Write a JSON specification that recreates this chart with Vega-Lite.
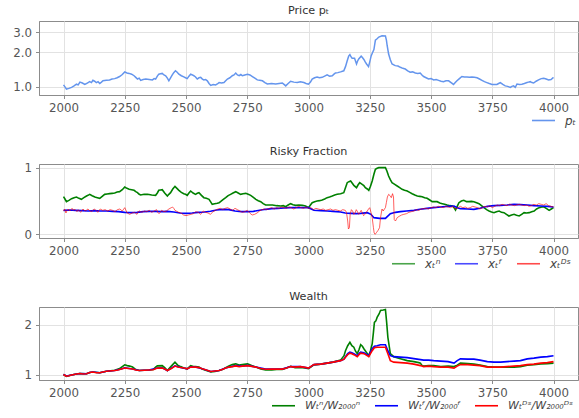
{
  "$schema": "https://vega.github.io/schema/vega-lite/v6.json",
  "background": "white",
  "padding": {"left": 12, "top": 4, "right": 2, "bottom": 2},
  "spacing": 69,
  "bounds": "flush",
  "resolve": {
    "scale": {"color": "independent", "x": "independent", "y": "independent"},
    "legend": {"color": "independent"}
  },
  "config": {
    "font": "DejaVu Sans",
    "view": {"stroke": "#8c8c8c", "strokeWidth": 1},
    "axis": {
      "domainColor": "#8c8c8c", "tickColor": "#8c8c8c", "tickSize": 3.5,
      "labelFont": "DejaVu Sans", "labelFontSize": 11.8, "labelColor": "#555555",
      "labelPadding": 4, "gridColor": "#e2e2e2", "gridWidth": 1,
      "labelFlush": false, "labelOverlap": false
    },
    "title": {"font": "DejaVu Sans", "fontSize": 11.2, "fontWeight": "normal", "color": "#333333", "offset": 5},
    "legend": {
      "orient": "none", "direction": "horizontal", "title": null,
      "symbolType": "stroke", "symbolSize": 529, "symbolStrokeWidth": 1.6,
      "labelFont": "DejaVu Sans", "labelFontSize": 12, "labelFontStyle": "italic",
      "labelColor": "#444444", "labelOffset": 9, "columnPadding": 10
    }
  },
  "datasets": {
    "price": [
      {"t":2000,"p":1.04},{"t":2006,"p":1.0},{"t":2012,"p":0.955},{"t":2022,"p":0.97},{"t":2033,"p":0.99},{"t":2043,"p":1.02},{"t":2053,"p":1.055},{"t":2060,"p":1.04},{"t":2067,"p":1.1},{"t":2077,"p":1.08},{"t":2087,"p":1.05},{"t":2097,"p":1.08},{"t":2107,"p":1.11},{"t":2114,"p":1.09},{"t":2120,"p":1.14},{"t":2127,"p":1.12},{"t":2134,"p":1.09},{"t":2141,"p":1.11},{"t":2148,"p":1.07},{"t":2155,"p":1.1},{"t":2161,"p":1.13},{"t":2175,"p":1.14},{"t":2188,"p":1.15},{"t":2198,"p":1.17},{"t":2209,"p":1.18},{"t":2219,"p":1.2},{"t":2229,"p":1.23},{"t":2240,"p":1.28},{"t":2250,"p":1.35},{"t":2259,"p":1.32},{"t":2268,"p":1.31},{"t":2278,"p":1.29},{"t":2288,"p":1.25},{"t":2295,"p":1.21},{"t":2302,"p":1.17},{"t":2309,"p":1.19},{"t":2315,"p":1.14},{"t":2325,"p":1.16},{"t":2336,"p":1.17},{"t":2350,"p":1.16},{"t":2363,"p":1.15},{"t":2370,"p":1.18},{"t":2376,"p":1.17},{"t":2383,"p":1.24},{"t":2389,"p":1.29},{"t":2396,"p":1.3},{"t":2403,"p":1.31},{"t":2410,"p":1.27},{"t":2417,"p":1.25},{"t":2424,"p":1.19},{"t":2430,"p":1.13},{"t":2437,"p":1.2},{"t":2444,"p":1.27},{"t":2450,"p":1.33},{"t":2457,"p":1.38},{"t":2464,"p":1.34},{"t":2471,"p":1.29},{"t":2481,"p":1.25},{"t":2491,"p":1.22},{"t":2498,"p":1.2},{"t":2505,"p":1.18},{"t":2512,"p":1.24},{"t":2519,"p":1.29},{"t":2526,"p":1.27},{"t":2532,"p":1.25},{"t":2539,"p":1.22},{"t":2546,"p":1.17},{"t":2553,"p":1.2},{"t":2560,"p":1.21},{"t":2567,"p":1.17},{"t":2573,"p":1.15},{"t":2580,"p":1.16},{"t":2587,"p":1.13},{"t":2594,"p":1.07},{"t":2601,"p":1.03},{"t":2611,"p":1.05},{"t":2621,"p":1.04},{"t":2628,"p":1.06},{"t":2635,"p":1.09},{"t":2645,"p":1.08},{"t":2655,"p":1.09},{"t":2662,"p":1.13},{"t":2669,"p":1.17},{"t":2679,"p":1.2},{"t":2689,"p":1.25},{"t":2696,"p":1.27},{"t":2703,"p":1.32},{"t":2710,"p":1.27},{"t":2717,"p":1.25},{"t":2724,"p":1.28},{"t":2730,"p":1.25},{"t":2740,"p":1.27},{"t":2751,"p":1.29},{"t":2761,"p":1.27},{"t":2771,"p":1.23},{"t":2781,"p":1.19},{"t":2791,"p":1.15},{"t":2801,"p":1.14},{"t":2812,"p":1.13},{"t":2822,"p":1.09},{"t":2832,"p":1.06},{"t":2849,"p":1.07},{"t":2866,"p":1.06},{"t":2880,"p":1.07},{"t":2893,"p":1.08},{"t":2900,"p":1.05},{"t":2907,"p":1.02},{"t":2917,"p":1.07},{"t":2927,"p":1.12},{"t":2940,"p":1.1},{"t":2954,"p":1.09},{"t":2967,"p":1.11},{"t":2981,"p":1.09},{"t":2990,"p":1.07},{"t":3000,"p":1.055},{"t":3008,"p":1.1},{"t":3015,"p":1.17},{"t":3025,"p":1.2},{"t":3035,"p":1.22},{"t":3045,"p":1.2},{"t":3056,"p":1.21},{"t":3066,"p":1.24},{"t":3076,"p":1.27},{"t":3086,"p":1.24},{"t":3097,"p":1.25},{"t":3104,"p":1.29},{"t":3110,"p":1.32},{"t":3120,"p":1.33},{"t":3131,"p":1.35},{"t":3144,"p":1.38},{"t":3151,"p":1.5},{"t":3158,"p":1.69},{"t":3164,"p":1.85},{"t":3169,"p":1.91},{"t":3174,"p":1.82},{"t":3178,"p":1.77},{"t":3188,"p":1.77},{"t":3196,"p":1.58},{"t":3200,"p":1.67},{"t":3205,"p":1.75},{"t":3215,"p":1.85},{"t":3220,"p":1.8},{"t":3226,"p":1.73},{"t":3232,"p":1.64},{"t":3237,"p":1.58},{"t":3245,"p":1.5},{"t":3250,"p":1.65},{"t":3256,"p":1.87},{"t":3262,"p":2.0},{"t":3267,"p":2.11},{"t":3273,"p":2.55},{"t":3280,"p":2.62},{"t":3287,"p":2.71},{"t":3300,"p":2.78},{"t":3314,"p":2.77},{"t":3318,"p":2.55},{"t":3321,"p":2.29},{"t":3327,"p":1.93},{"t":3334,"p":1.72},{"t":3341,"p":1.58},{"t":3354,"p":1.53},{"t":3365,"p":1.52},{"t":3375,"p":1.48},{"t":3385,"p":1.45},{"t":3395,"p":1.43},{"t":3405,"p":1.38},{"t":3415,"p":1.34},{"t":3425,"p":1.35},{"t":3436,"p":1.32},{"t":3446,"p":1.31},{"t":3456,"p":1.32},{"t":3463,"p":1.27},{"t":3470,"p":1.23},{"t":3480,"p":1.2},{"t":3490,"p":1.17},{"t":3500,"p":1.18},{"t":3511,"p":1.15},{"t":3521,"p":1.16},{"t":3531,"p":1.14},{"t":3541,"p":1.12},{"t":3551,"p":1.11},{"t":3561,"p":1.13},{"t":3572,"p":1.13},{"t":3582,"p":1.09},{"t":3592,"p":1.05},{"t":3599,"p":1.09},{"t":3606,"p":1.13},{"t":3616,"p":1.18},{"t":3626,"p":1.23},{"t":3636,"p":1.22},{"t":3647,"p":1.22},{"t":3657,"p":1.21},{"t":3667,"p":1.22},{"t":3677,"p":1.21},{"t":3688,"p":1.2},{"t":3698,"p":1.17},{"t":3708,"p":1.14},{"t":3718,"p":1.11},{"t":3728,"p":1.09},{"t":3738,"p":1.07},{"t":3749,"p":1.05},{"t":3759,"p":1.05},{"t":3769,"p":1.05},{"t":3776,"p":1.07},{"t":3783,"p":1.09},{"t":3793,"p":1.05},{"t":3803,"p":1.02},{"t":3813,"p":1.01},{"t":3824,"p":0.99},{"t":3830,"p":1.01},{"t":3837,"p":1.02},{"t":3844,"p":0.99},{"t":3851,"p":1.06},{"t":3861,"p":1.05},{"t":3871,"p":1.055},{"t":3881,"p":1.07},{"t":3892,"p":1.09},{"t":3898,"p":1.1},{"t":3905,"p":1.11},{"t":3912,"p":1.09},{"t":3919,"p":1.08},{"t":3929,"p":1.12},{"t":3939,"p":1.15},{"t":3950,"p":1.18},{"t":3960,"p":1.19},{"t":3970,"p":1.17},{"t":3980,"p":1.15},{"t":3990,"p":1.16},{"t":4000,"p":1.21}
    ],
    "frac": [
      {"s":"n","t":2000,"v":0.565},{"s":"n","t":2006,"v":0.53},{"s":"n","t":2012,"v":0.49},{"s":"n","t":2022,"v":0.51},{"s":"n","t":2033,"v":0.535},{"s":"n","t":2043,"v":0.55},{"s":"n","t":2053,"v":0.56},{"s":"n","t":2063,"v":0.54},{"s":"n","t":2073,"v":0.525},{"s":"n","t":2083,"v":0.55},{"s":"n","t":2094,"v":0.575},{"s":"n","t":2100,"v":0.585},{"s":"n","t":2107,"v":0.6},{"s":"n","t":2117,"v":0.58},{"s":"n","t":2128,"v":0.56},{"s":"n","t":2138,"v":0.55},{"s":"n","t":2148,"v":0.54},{"s":"n","t":2158,"v":0.57},{"s":"n","t":2168,"v":0.6},{"s":"n","t":2178,"v":0.605},{"s":"n","t":2188,"v":0.61},{"s":"n","t":2198,"v":0.615},{"s":"n","t":2209,"v":0.62},{"s":"n","t":2219,"v":0.635},{"s":"n","t":2229,"v":0.64},{"s":"n","t":2240,"v":0.67},{"s":"n","t":2250,"v":0.71},{"s":"n","t":2259,"v":0.69},{"s":"n","t":2268,"v":0.675},{"s":"n","t":2278,"v":0.67},{"s":"n","t":2288,"v":0.66},{"s":"n","t":2295,"v":0.64},{"s":"n","t":2302,"v":0.625},{"s":"n","t":2309,"v":0.6},{"s":"n","t":2315,"v":0.59},{"s":"n","t":2329,"v":0.6},{"s":"n","t":2343,"v":0.6},{"s":"n","t":2360,"v":0.59},{"s":"n","t":2376,"v":0.585},{"s":"n","t":2383,"v":0.62},{"s":"n","t":2389,"v":0.66},{"s":"n","t":2396,"v":0.665},{"s":"n","t":2403,"v":0.67},{"s":"n","t":2413,"v":0.62},{"s":"n","t":2424,"v":0.575},{"s":"n","t":2430,"v":0.6},{"s":"n","t":2437,"v":0.625},{"s":"n","t":2446,"v":0.68},{"s":"n","t":2455,"v":0.72},{"s":"n","t":2463,"v":0.69},{"s":"n","t":2471,"v":0.66},{"s":"n","t":2481,"v":0.63},{"s":"n","t":2491,"v":0.61},{"s":"n","t":2498,"v":0.6},{"s":"n","t":2505,"v":0.585},{"s":"n","t":2512,"v":0.62},{"s":"n","t":2519,"v":0.65},{"s":"n","t":2529,"v":0.62},{"s":"n","t":2539,"v":0.6},{"s":"n","t":2546,"v":0.615},{"s":"n","t":2553,"v":0.625},{"s":"n","t":2563,"v":0.585},{"s":"n","t":2573,"v":0.55},{"s":"n","t":2583,"v":0.54},{"s":"n","t":2594,"v":0.525},{"s":"n","t":2600,"v":0.49},{"s":"n","t":2607,"v":0.45},{"s":"n","t":2617,"v":0.46},{"s":"n","t":2628,"v":0.465},{"s":"n","t":2635,"v":0.475},{"s":"n","t":2641,"v":0.49},{"s":"n","t":2651,"v":0.52},{"s":"n","t":2662,"v":0.55},{"s":"n","t":2672,"v":0.58},{"s":"n","t":2682,"v":0.6},{"s":"n","t":2692,"v":0.62},{"s":"n","t":2703,"v":0.64},{"s":"n","t":2713,"v":0.62},{"s":"n","t":2723,"v":0.6},{"s":"n","t":2733,"v":0.61},{"s":"n","t":2744,"v":0.615},{"s":"n","t":2754,"v":0.6},{"s":"n","t":2764,"v":0.585},{"s":"n","t":2775,"v":0.555},{"s":"n","t":2785,"v":0.525},{"s":"n","t":2795,"v":0.505},{"s":"n","t":2805,"v":0.49},{"s":"n","t":2815,"v":0.46},{"s":"n","t":2825,"v":0.44},{"s":"n","t":2839,"v":0.44},{"s":"n","t":2853,"v":0.44},{"s":"n","t":2870,"v":0.43},{"s":"n","t":2887,"v":0.425},{"s":"n","t":2897,"v":0.43},{"s":"n","t":2907,"v":0.415},{"s":"n","t":2917,"v":0.44},{"s":"n","t":2927,"v":0.46},{"s":"n","t":2937,"v":0.445},{"s":"n","t":2948,"v":0.435},{"s":"n","t":2961,"v":0.44},{"s":"n","t":2975,"v":0.435},{"s":"n","t":2988,"v":0.425},{"s":"n","t":3000,"v":0.4},{"s":"n","t":3008,"v":0.44},{"s":"n","t":3015,"v":0.475},{"s":"n","t":3025,"v":0.49},{"s":"n","t":3035,"v":0.5},{"s":"n","t":3045,"v":0.505},{"s":"n","t":3056,"v":0.515},{"s":"n","t":3066,"v":0.53},{"s":"n","t":3076,"v":0.55},{"s":"n","t":3086,"v":0.56},{"s":"n","t":3097,"v":0.575},{"s":"n","t":3107,"v":0.59},{"s":"n","t":3117,"v":0.6},{"s":"n","t":3131,"v":0.61},{"s":"n","t":3144,"v":0.625},{"s":"n","t":3151,"v":0.7},{"s":"n","t":3158,"v":0.775},{"s":"n","t":3165,"v":0.79},{"s":"n","t":3172,"v":0.8},{"s":"n","t":3178,"v":0.77},{"s":"n","t":3185,"v":0.735},{"s":"n","t":3196,"v":0.7},{"s":"n","t":3202,"v":0.74},{"s":"n","t":3209,"v":0.775},{"s":"n","t":3219,"v":0.75},{"s":"n","t":3226,"v":0.73},{"s":"n","t":3232,"v":0.7},{"s":"n","t":3240,"v":0.68},{"s":"n","t":3246,"v":0.66},{"s":"n","t":3253,"v":0.72},{"s":"n","t":3260,"v":0.8},{"s":"n","t":3267,"v":0.9},{"s":"n","t":3273,"v":0.975},{"s":"n","t":3280,"v":0.99},{"s":"n","t":3287,"v":1.0},{"s":"n","t":3300,"v":1.0},{"s":"n","t":3314,"v":1.0},{"s":"n","t":3320,"v":0.95},{"s":"n","t":3327,"v":0.875},{"s":"n","t":3334,"v":0.82},{"s":"n","t":3341,"v":0.775},{"s":"n","t":3352,"v":0.75},{"s":"n","t":3362,"v":0.725},{"s":"n","t":3372,"v":0.7},{"s":"n","t":3382,"v":0.675},{"s":"n","t":3392,"v":0.66},{"s":"n","t":3403,"v":0.65},{"s":"n","t":3413,"v":0.63},{"s":"n","t":3423,"v":0.61},{"s":"n","t":3434,"v":0.59},{"s":"n","t":3444,"v":0.575},{"s":"n","t":3454,"v":0.57},{"s":"n","t":3464,"v":0.565},{"s":"n","t":3474,"v":0.55},{"s":"n","t":3484,"v":0.54},{"s":"n","t":3495,"v":0.515},{"s":"n","t":3505,"v":0.49},{"s":"n","t":3515,"v":0.49},{"s":"n","t":3525,"v":0.49},{"s":"n","t":3536,"v":0.47},{"s":"n","t":3546,"v":0.46},{"s":"n","t":3556,"v":0.45},{"s":"n","t":3566,"v":0.44},{"s":"n","t":3577,"v":0.43},{"s":"n","t":3587,"v":0.425},{"s":"n","t":3594,"v":0.4},{"s":"n","t":3600,"v":0.365},{"s":"n","t":3607,"v":0.42},{"s":"n","t":3614,"v":0.475},{"s":"n","t":3624,"v":0.5},{"s":"n","t":3634,"v":0.51},{"s":"n","t":3645,"v":0.49},{"s":"n","t":3655,"v":0.49},{"s":"n","t":3665,"v":0.495},{"s":"n","t":3675,"v":0.49},{"s":"n","t":3686,"v":0.475},{"s":"n","t":3696,"v":0.46},{"s":"n","t":3706,"v":0.43},{"s":"n","t":3716,"v":0.4},{"s":"n","t":3727,"v":0.37},{"s":"n","t":3737,"v":0.35},{"s":"n","t":3747,"v":0.335},{"s":"n","t":3757,"v":0.325},{"s":"n","t":3767,"v":0.34},{"s":"n","t":3778,"v":0.35},{"s":"n","t":3788,"v":0.33},{"s":"n","t":3798,"v":0.325},{"s":"n","t":3808,"v":0.3},{"s":"n","t":3818,"v":0.275},{"s":"n","t":3829,"v":0.29},{"s":"n","t":3839,"v":0.3},{"s":"n","t":3849,"v":0.285},{"s":"n","t":3860,"v":0.275},{"s":"n","t":3870,"v":0.3},{"s":"n","t":3880,"v":0.325},{"s":"n","t":3890,"v":0.32},{"s":"n","t":3901,"v":0.325},{"s":"n","t":3911,"v":0.34},{"s":"n","t":3921,"v":0.35},{"s":"n","t":3931,"v":0.38},{"s":"n","t":3941,"v":0.4},{"s":"n","t":3952,"v":0.41},{"s":"n","t":3962,"v":0.41},{"s":"n","t":3972,"v":0.385},{"s":"n","t":3982,"v":0.36},{"s":"n","t":3991,"v":0.38},{"s":"n","t":4000,"v":0.4},
      {"s":"f","t":2000,"v":0.36},{"s":"f","t":2025,"v":0.365},{"s":"f","t":2050,"v":0.36},{"s":"f","t":2075,"v":0.355},{"s":"f","t":2100,"v":0.35},{"s":"f","t":2125,"v":0.355},{"s":"f","t":2150,"v":0.35},{"s":"f","t":2175,"v":0.35},{"s":"f","t":2200,"v":0.345},{"s":"f","t":2225,"v":0.34},{"s":"f","t":2250,"v":0.33},{"s":"f","t":2275,"v":0.325},{"s":"f","t":2300,"v":0.33},{"s":"f","t":2325,"v":0.34},{"s":"f","t":2350,"v":0.345},{"s":"f","t":2375,"v":0.345},{"s":"f","t":2400,"v":0.34},{"s":"f","t":2425,"v":0.345},{"s":"f","t":2450,"v":0.335},{"s":"f","t":2475,"v":0.32},{"s":"f","t":2500,"v":0.315},{"s":"f","t":2525,"v":0.32},{"s":"f","t":2550,"v":0.33},{"s":"f","t":2575,"v":0.335},{"s":"f","t":2600,"v":0.345},{"s":"f","t":2625,"v":0.365},{"s":"f","t":2650,"v":0.375},{"s":"f","t":2675,"v":0.37},{"s":"f","t":2700,"v":0.35},{"s":"f","t":2725,"v":0.34},{"s":"f","t":2750,"v":0.34},{"s":"f","t":2775,"v":0.345},{"s":"f","t":2800,"v":0.36},{"s":"f","t":2825,"v":0.375},{"s":"f","t":2850,"v":0.385},{"s":"f","t":2875,"v":0.39},{"s":"f","t":2900,"v":0.395},{"s":"f","t":2925,"v":0.4},{"s":"f","t":2950,"v":0.4},{"s":"f","t":2975,"v":0.4},{"s":"f","t":3000,"v":0.4},{"s":"f","t":3022,"v":0.36},{"s":"f","t":3050,"v":0.355},{"s":"f","t":3076,"v":0.35},{"s":"f","t":3100,"v":0.345},{"s":"f","t":3131,"v":0.335},{"s":"f","t":3150,"v":0.32},{"s":"f","t":3172,"v":0.315},{"s":"f","t":3195,"v":0.31},{"s":"f","t":3213,"v":0.315},{"s":"f","t":3240,"v":0.325},{"s":"f","t":3255,"v":0.3},{"s":"f","t":3267,"v":0.25},{"s":"f","t":3290,"v":0.24},{"s":"f","t":3314,"v":0.24},{"s":"f","t":3334,"v":0.31},{"s":"f","t":3355,"v":0.33},{"s":"f","t":3375,"v":0.34},{"s":"f","t":3400,"v":0.35},{"s":"f","t":3430,"v":0.36},{"s":"f","t":3455,"v":0.375},{"s":"f","t":3484,"v":0.39},{"s":"f","t":3510,"v":0.4},{"s":"f","t":3539,"v":0.41},{"s":"f","t":3565,"v":0.42},{"s":"f","t":3594,"v":0.425},{"s":"f","t":3607,"v":0.4},{"s":"f","t":3620,"v":0.385},{"s":"f","t":3650,"v":0.38},{"s":"f","t":3675,"v":0.375},{"s":"f","t":3700,"v":0.39},{"s":"f","t":3730,"v":0.42},{"s":"f","t":3757,"v":0.43},{"s":"f","t":3784,"v":0.435},{"s":"f","t":3810,"v":0.44},{"s":"f","t":3839,"v":0.45},{"s":"f","t":3865,"v":0.445},{"s":"f","t":3893,"v":0.44},{"s":"f","t":3920,"v":0.43},{"s":"f","t":3948,"v":0.425},{"s":"f","t":3975,"v":0.42},{"s":"f","t":4000,"v":0.41},
      {"s":"d","t":2000,"v":0.35},{"s":"d","t":2005,"v":0.38},{"s":"d","t":2010,"v":0.32},{"s":"d","t":2015,"v":0.36},{"s":"d","t":2020,"v":0.38},{"s":"d","t":2025,"v":0.35},{"s":"d","t":2030,"v":0.37},{"s":"d","t":2035,"v":0.39},{"s":"d","t":2040,"v":0.36},{"s":"d","t":2045,"v":0.38},{"s":"d","t":2050,"v":0.36},{"s":"d","t":2055,"v":0.34},{"s":"d","t":2060,"v":0.37},{"s":"d","t":2065,"v":0.35},{"s":"d","t":2070,"v":0.33},{"s":"d","t":2075,"v":0.36},{"s":"d","t":2080,"v":0.38},{"s":"d","t":2085,"v":0.36},{"s":"d","t":2090,"v":0.35},{"s":"d","t":2095,"v":0.37},{"s":"d","t":2100,"v":0.38},{"s":"d","t":2105,"v":0.36},{"s":"d","t":2110,"v":0.35},{"s":"d","t":2115,"v":0.34},{"s":"d","t":2120,"v":0.36},{"s":"d","t":2125,"v":0.38},{"s":"d","t":2130,"v":0.37},{"s":"d","t":2135,"v":0.35},{"s":"d","t":2140,"v":0.33},{"s":"d","t":2145,"v":0.36},{"s":"d","t":2150,"v":0.38},{"s":"d","t":2160,"v":0.36},{"s":"d","t":2170,"v":0.37},{"s":"d","t":2180,"v":0.35},{"s":"d","t":2190,"v":0.37},{"s":"d","t":2200,"v":0.36},{"s":"d","t":2210,"v":0.34},{"s":"d","t":2220,"v":0.37},{"s":"d","t":2230,"v":0.38},{"s":"d","t":2240,"v":0.35},{"s":"d","t":2250,"v":0.4},{"s":"d","t":2255,"v":0.36},{"s":"d","t":2260,"v":0.32},{"s":"d","t":2270,"v":0.3},{"s":"d","t":2280,"v":0.32},{"s":"d","t":2290,"v":0.33},{"s":"d","t":2300,"v":0.3},{"s":"d","t":2305,"v":0.34},{"s":"d","t":2310,"v":0.35},{"s":"d","t":2320,"v":0.33},{"s":"d","t":2330,"v":0.35},{"s":"d","t":2340,"v":0.34},{"s":"d","t":2350,"v":0.36},{"s":"d","t":2360,"v":0.33},{"s":"d","t":2370,"v":0.35},{"s":"d","t":2380,"v":0.37},{"s":"d","t":2385,"v":0.33},{"s":"d","t":2390,"v":0.31},{"s":"d","t":2395,"v":0.33},{"s":"d","t":2400,"v":0.36},{"s":"d","t":2410,"v":0.34},{"s":"d","t":2420,"v":0.35},{"s":"d","t":2430,"v":0.38},{"s":"d","t":2440,"v":0.4},{"s":"d","t":2445,"v":0.41},{"s":"d","t":2450,"v":0.39},{"s":"d","t":2455,"v":0.36},{"s":"d","t":2460,"v":0.35},{"s":"d","t":2470,"v":0.33},{"s":"d","t":2480,"v":0.32},{"s":"d","t":2490,"v":0.29},{"s":"d","t":2500,"v":0.28},{"s":"d","t":2510,"v":0.29},{"s":"d","t":2520,"v":0.3},{"s":"d","t":2530,"v":0.31},{"s":"d","t":2540,"v":0.34},{"s":"d","t":2550,"v":0.33},{"s":"d","t":2560,"v":0.3},{"s":"d","t":2570,"v":0.35},{"s":"d","t":2580,"v":0.33},{"s":"d","t":2590,"v":0.32},{"s":"d","t":2600,"v":0.3},{"s":"d","t":2610,"v":0.34},{"s":"d","t":2620,"v":0.36},{"s":"d","t":2630,"v":0.38},{"s":"d","t":2640,"v":0.39},{"s":"d","t":2650,"v":0.37},{"s":"d","t":2660,"v":0.39},{"s":"d","t":2670,"v":0.4},{"s":"d","t":2680,"v":0.38},{"s":"d","t":2690,"v":0.36},{"s":"d","t":2700,"v":0.39},{"s":"d","t":2710,"v":0.37},{"s":"d","t":2720,"v":0.35},{"s":"d","t":2730,"v":0.33},{"s":"d","t":2740,"v":0.34},{"s":"d","t":2750,"v":0.36},{"s":"d","t":2760,"v":0.32},{"s":"d","t":2770,"v":0.29},{"s":"d","t":2780,"v":0.3},{"s":"d","t":2790,"v":0.32},{"s":"d","t":2800,"v":0.35},{"s":"d","t":2810,"v":0.37},{"s":"d","t":2820,"v":0.38},{"s":"d","t":2830,"v":0.37},{"s":"d","t":2840,"v":0.39},{"s":"d","t":2850,"v":0.4},{"s":"d","t":2860,"v":0.38},{"s":"d","t":2870,"v":0.4},{"s":"d","t":2880,"v":0.39},{"s":"d","t":2890,"v":0.41},{"s":"d","t":2900,"v":0.4},{"s":"d","t":2910,"v":0.39},{"s":"d","t":2920,"v":0.41},{"s":"d","t":2930,"v":0.4},{"s":"d","t":2940,"v":0.38},{"s":"d","t":2950,"v":0.4},{"s":"d","t":2960,"v":0.42},{"s":"d","t":2970,"v":0.4},{"s":"d","t":2980,"v":0.39},{"s":"d","t":2990,"v":0.41},{"s":"d","t":3000,"v":0.39},{"s":"d","t":3010,"v":0.4},{"s":"d","t":3020,"v":0.37},{"s":"d","t":3030,"v":0.39},{"s":"d","t":3040,"v":0.38},{"s":"d","t":3050,"v":0.37},{"s":"d","t":3060,"v":0.38},{"s":"d","t":3070,"v":0.36},{"s":"d","t":3080,"v":0.37},{"s":"d","t":3090,"v":0.38},{"s":"d","t":3100,"v":0.36},{"s":"d","t":3110,"v":0.37},{"s":"d","t":3120,"v":0.36},{"s":"d","t":3130,"v":0.35},{"s":"d","t":3140,"v":0.37},{"s":"d","t":3150,"v":0.36},{"s":"d","t":3155,"v":0.33},{"s":"d","t":3160,"v":0.2},{"s":"d","t":3163,"v":0.08},{"s":"d","t":3167,"v":0.1},{"s":"d","t":3170,"v":0.3},{"s":"d","t":3175,"v":0.37},{"s":"d","t":3180,"v":0.35},{"s":"d","t":3185,"v":0.3},{"s":"d","t":3190,"v":0.32},{"s":"d","t":3195,"v":0.37},{"s":"d","t":3200,"v":0.34},{"s":"d","t":3205,"v":0.3},{"s":"d","t":3210,"v":0.33},{"s":"d","t":3215,"v":0.36},{"s":"d","t":3220,"v":0.32},{"s":"d","t":3225,"v":0.28},{"s":"d","t":3230,"v":0.3},{"s":"d","t":3235,"v":0.33},{"s":"d","t":3240,"v":0.35},{"s":"d","t":3245,"v":0.38},{"s":"d","t":3250,"v":0.4},{"s":"d","t":3255,"v":0.33},{"s":"d","t":3260,"v":0.25},{"s":"d","t":3265,"v":0.1},{"s":"d","t":3268,"v":0.02},{"s":"d","t":3272,"v":0.0},{"s":"d","t":3278,"v":0.03},{"s":"d","t":3284,"v":0.06},{"s":"d","t":3290,"v":0.1},{"s":"d","t":3294,"v":0.25},{"s":"d","t":3300,"v":0.38},{"s":"d","t":3305,"v":0.35},{"s":"d","t":3310,"v":0.38},{"s":"d","t":3314,"v":0.4},{"s":"d","t":3318,"v":0.48},{"s":"d","t":3322,"v":0.56},{"s":"d","t":3327,"v":0.6},{"s":"d","t":3333,"v":0.58},{"s":"d","t":3338,"v":0.55},{"s":"d","t":3343,"v":0.61},{"s":"d","t":3347,"v":0.56},{"s":"d","t":3350,"v":0.22},{"s":"d","t":3355,"v":0.2},{"s":"d","t":3362,"v":0.25},{"s":"d","t":3370,"v":0.27},{"s":"d","t":3380,"v":0.29},{"s":"d","t":3389,"v":0.3},{"s":"d","t":3400,"v":0.31},{"s":"d","t":3410,"v":0.33},{"s":"d","t":3420,"v":0.34},{"s":"d","t":3430,"v":0.35},{"s":"d","t":3440,"v":0.37},{"s":"d","t":3450,"v":0.36},{"s":"d","t":3460,"v":0.38},{"s":"d","t":3470,"v":0.385},{"s":"d","t":3480,"v":0.39},{"s":"d","t":3490,"v":0.38},{"s":"d","t":3500,"v":0.4},{"s":"d","t":3510,"v":0.41},{"s":"d","t":3520,"v":0.4},{"s":"d","t":3530,"v":0.42},{"s":"d","t":3540,"v":0.41},{"s":"d","t":3550,"v":0.4},{"s":"d","t":3560,"v":0.42},{"s":"d","t":3570,"v":0.41},{"s":"d","t":3580,"v":0.4},{"s":"d","t":3590,"v":0.42},{"s":"d","t":3600,"v":0.38},{"s":"d","t":3610,"v":0.4},{"s":"d","t":3620,"v":0.42},{"s":"d","t":3630,"v":0.4},{"s":"d","t":3640,"v":0.41},{"s":"d","t":3650,"v":0.39},{"s":"d","t":3660,"v":0.4},{"s":"d","t":3670,"v":0.42},{"s":"d","t":3680,"v":0.41},{"s":"d","t":3690,"v":0.4},{"s":"d","t":3700,"v":0.38},{"s":"d","t":3710,"v":0.4},{"s":"d","t":3720,"v":0.42},{"s":"d","t":3730,"v":0.41},{"s":"d","t":3740,"v":0.43},{"s":"d","t":3750,"v":0.4},{"s":"d","t":3760,"v":0.42},{"s":"d","t":3770,"v":0.44},{"s":"d","t":3780,"v":0.43},{"s":"d","t":3790,"v":0.45},{"s":"d","t":3800,"v":0.44},{"s":"d","t":3810,"v":0.43},{"s":"d","t":3820,"v":0.45},{"s":"d","t":3830,"v":0.44},{"s":"d","t":3840,"v":0.43},{"s":"d","t":3850,"v":0.44},{"s":"d","t":3860,"v":0.45},{"s":"d","t":3870,"v":0.44},{"s":"d","t":3880,"v":0.43},{"s":"d","t":3890,"v":0.44},{"s":"d","t":3900,"v":0.42},{"s":"d","t":3910,"v":0.43},{"s":"d","t":3920,"v":0.45},{"s":"d","t":3930,"v":0.44},{"s":"d","t":3940,"v":0.46},{"s":"d","t":3950,"v":0.45},{"s":"d","t":3960,"v":0.44},{"s":"d","t":3970,"v":0.46},{"s":"d","t":3980,"v":0.43},{"s":"d","t":3990,"v":0.42},{"s":"d","t":4000,"v":0.41}
    ],
    "wealth": [
      {"s":"n","t":2000,"v":1.0},{"s":"n","t":2012,"v":0.965},{"s":"n","t":2033,"v":0.99},{"s":"n","t":2053,"v":1.01},{"s":"n","t":2067,"v":1.02},{"s":"n","t":2094,"v":1.015},{"s":"n","t":2107,"v":1.04},{"s":"n","t":2120,"v":1.05},{"s":"n","t":2148,"v":1.035},{"s":"n","t":2175,"v":1.065},{"s":"n","t":2209,"v":1.085},{"s":"n","t":2229,"v":1.12},{"s":"n","t":2240,"v":1.16},{"s":"n","t":2250,"v":1.195},{"s":"n","t":2260,"v":1.18},{"s":"n","t":2270,"v":1.17},{"s":"n","t":2282,"v":1.15},{"s":"n","t":2295,"v":1.1},{"s":"n","t":2309,"v":1.08},{"s":"n","t":2329,"v":1.085},{"s":"n","t":2349,"v":1.09},{"s":"n","t":2366,"v":1.1},{"s":"n","t":2376,"v":1.15},{"s":"n","t":2383,"v":1.175},{"s":"n","t":2403,"v":1.18},{"s":"n","t":2413,"v":1.14},{"s":"n","t":2424,"v":1.08},{"s":"n","t":2440,"v":1.17},{"s":"n","t":2455,"v":1.25},{"s":"n","t":2466,"v":1.19},{"s":"n","t":2478,"v":1.16},{"s":"n","t":2491,"v":1.13},{"s":"n","t":2505,"v":1.115},{"s":"n","t":2519,"v":1.18},{"s":"n","t":2530,"v":1.16},{"s":"n","t":2539,"v":1.16},{"s":"n","t":2553,"v":1.15},{"s":"n","t":2566,"v":1.11},{"s":"n","t":2583,"v":1.08},{"s":"n","t":2601,"v":1.05},{"s":"n","t":2618,"v":1.06},{"s":"n","t":2635,"v":1.08},{"s":"n","t":2648,"v":1.1},{"s":"n","t":2662,"v":1.14},{"s":"n","t":2675,"v":1.17},{"s":"n","t":2689,"v":1.2},{"s":"n","t":2703,"v":1.215},{"s":"n","t":2717,"v":1.19},{"s":"n","t":2730,"v":1.2},{"s":"n","t":2751,"v":1.215},{"s":"n","t":2768,"v":1.18},{"s":"n","t":2785,"v":1.15},{"s":"n","t":2805,"v":1.11},{"s":"n","t":2825,"v":1.094},{"s":"n","t":2850,"v":1.09},{"s":"n","t":2870,"v":1.1},{"s":"n","t":2893,"v":1.1},{"s":"n","t":2910,"v":1.13},{"s":"n","t":2927,"v":1.165},{"s":"n","t":2945,"v":1.14},{"s":"n","t":2967,"v":1.145},{"s":"n","t":2985,"v":1.13},{"s":"n","t":3000,"v":1.12},{"s":"n","t":3012,"v":1.16},{"s":"n","t":3022,"v":1.195},{"s":"n","t":3050,"v":1.21},{"s":"n","t":3076,"v":1.23},{"s":"n","t":3100,"v":1.25},{"s":"n","t":3131,"v":1.29},{"s":"n","t":3145,"v":1.38},{"s":"n","t":3151,"v":1.48},{"s":"n","t":3160,"v":1.58},{"s":"n","t":3169,"v":1.65},{"s":"n","t":3177,"v":1.58},{"s":"n","t":3185,"v":1.55},{"s":"n","t":3192,"v":1.47},{"s":"n","t":3199,"v":1.42},{"s":"n","t":3206,"v":1.5},{"s":"n","t":3213,"v":1.6},{"s":"n","t":3220,"v":1.57},{"s":"n","t":3226,"v":1.52},{"s":"n","t":3236,"v":1.45},{"s":"n","t":3246,"v":1.38},{"s":"n","t":3253,"v":1.48},{"s":"n","t":3260,"v":1.62},{"s":"n","t":3265,"v":1.85},{"s":"n","t":3269,"v":2.05},{"s":"n","t":3275,"v":2.08},{"s":"n","t":3280,"v":2.15},{"s":"n","t":3288,"v":2.22},{"s":"n","t":3294,"v":2.29},{"s":"n","t":3305,"v":2.3},{"s":"n","t":3314,"v":2.31},{"s":"n","t":3319,"v":2.05},{"s":"n","t":3324,"v":1.75},{"s":"n","t":3334,"v":1.42},{"s":"n","t":3348,"v":1.36},{"s":"n","t":3375,"v":1.32},{"s":"n","t":3403,"v":1.28},{"s":"n","t":3430,"v":1.26},{"s":"n","t":3450,"v":1.24},{"s":"n","t":3457,"v":1.23},{"s":"n","t":3462,"v":1.19},{"s":"n","t":3470,"v":1.17},{"s":"n","t":3490,"v":1.18},{"s":"n","t":3511,"v":1.18},{"s":"n","t":3540,"v":1.16},{"s":"n","t":3570,"v":1.17},{"s":"n","t":3594,"v":1.16},{"s":"n","t":3607,"v":1.19},{"s":"n","t":3620,"v":1.23},{"s":"n","t":3650,"v":1.22},{"s":"n","t":3675,"v":1.21},{"s":"n","t":3700,"v":1.19},{"s":"n","t":3730,"v":1.16},{"s":"n","t":3757,"v":1.15},{"s":"n","t":3784,"v":1.15},{"s":"n","t":3810,"v":1.15},{"s":"n","t":3839,"v":1.15},{"s":"n","t":3865,"v":1.16},{"s":"n","t":3893,"v":1.19},{"s":"n","t":3920,"v":1.2},{"s":"n","t":3948,"v":1.215},{"s":"n","t":3975,"v":1.22},{"s":"n","t":4000,"v":1.23},
      {"s":"f","t":2000,"v":1.0},{"s":"f","t":2012,"v":0.97},{"s":"f","t":2033,"v":0.99},{"s":"f","t":2053,"v":1.01},{"s":"f","t":2067,"v":1.02},{"s":"f","t":2094,"v":1.015},{"s":"f","t":2107,"v":1.04},{"s":"f","t":2120,"v":1.05},{"s":"f","t":2148,"v":1.035},{"s":"f","t":2175,"v":1.065},{"s":"f","t":2209,"v":1.08},{"s":"f","t":2236,"v":1.11},{"s":"f","t":2250,"v":1.135},{"s":"f","t":2282,"v":1.11},{"s":"f","t":2309,"v":1.08},{"s":"f","t":2349,"v":1.09},{"s":"f","t":2383,"v":1.13},{"s":"f","t":2403,"v":1.135},{"s":"f","t":2424,"v":1.08},{"s":"f","t":2455,"v":1.175},{"s":"f","t":2478,"v":1.14},{"s":"f","t":2505,"v":1.115},{"s":"f","t":2519,"v":1.155},{"s":"f","t":2539,"v":1.15},{"s":"f","t":2566,"v":1.115},{"s":"f","t":2601,"v":1.06},{"s":"f","t":2635,"v":1.08},{"s":"f","t":2662,"v":1.13},{"s":"f","t":2689,"v":1.165},{"s":"f","t":2703,"v":1.18},{"s":"f","t":2730,"v":1.17},{"s":"f","t":2751,"v":1.185},{"s":"f","t":2785,"v":1.15},{"s":"f","t":2825,"v":1.11},{"s":"f","t":2870,"v":1.11},{"s":"f","t":2893,"v":1.11},{"s":"f","t":2927,"v":1.16},{"s":"f","t":2967,"v":1.16},{"s":"f","t":3000,"v":1.13},{"s":"f","t":3022,"v":1.2},{"s":"f","t":3050,"v":1.21},{"s":"f","t":3076,"v":1.23},{"s":"f","t":3100,"v":1.25},{"s":"f","t":3131,"v":1.28},{"s":"f","t":3145,"v":1.31},{"s":"f","t":3151,"v":1.36},{"s":"f","t":3160,"v":1.42},{"s":"f","t":3169,"v":1.45},{"s":"f","t":3177,"v":1.44},{"s":"f","t":3185,"v":1.42},{"s":"f","t":3199,"v":1.38},{"s":"f","t":3206,"v":1.42},{"s":"f","t":3213,"v":1.45},{"s":"f","t":3226,"v":1.44},{"s":"f","t":3236,"v":1.41},{"s":"f","t":3246,"v":1.38},{"s":"f","t":3253,"v":1.45},{"s":"f","t":3260,"v":1.52},{"s":"f","t":3269,"v":1.57},{"s":"f","t":3280,"v":1.58},{"s":"f","t":3294,"v":1.6},{"s":"f","t":3314,"v":1.6},{"s":"f","t":3324,"v":1.48},{"s":"f","t":3334,"v":1.38},{"s":"f","t":3348,"v":1.36},{"s":"f","t":3375,"v":1.35},{"s":"f","t":3403,"v":1.34},{"s":"f","t":3430,"v":1.32},{"s":"f","t":3457,"v":1.3},{"s":"f","t":3470,"v":1.29},{"s":"f","t":3490,"v":1.29},{"s":"f","t":3511,"v":1.28},{"s":"f","t":3540,"v":1.27},{"s":"f","t":3570,"v":1.26},{"s":"f","t":3594,"v":1.23},{"s":"f","t":3607,"v":1.28},{"s":"f","t":3620,"v":1.315},{"s":"f","t":3650,"v":1.31},{"s":"f","t":3675,"v":1.31},{"s":"f","t":3700,"v":1.29},{"s":"f","t":3730,"v":1.26},{"s":"f","t":3757,"v":1.25},{"s":"f","t":3784,"v":1.25},{"s":"f","t":3810,"v":1.26},{"s":"f","t":3839,"v":1.27},{"s":"f","t":3865,"v":1.28},{"s":"f","t":3893,"v":1.315},{"s":"f","t":3920,"v":1.33},{"s":"f","t":3948,"v":1.35},{"s":"f","t":3975,"v":1.36},{"s":"f","t":4000,"v":1.38},
      {"s":"d","t":2000,"v":1.0},{"s":"d","t":2006,"v":0.98},{"s":"d","t":2012,"v":0.965},{"s":"d","t":2022,"v":0.975},{"s":"d","t":2033,"v":0.99},{"s":"d","t":2043,"v":1.0},{"s":"d","t":2053,"v":1.01},{"s":"d","t":2067,"v":1.02},{"s":"d","t":2080,"v":1.01},{"s":"d","t":2094,"v":1.015},{"s":"d","t":2107,"v":1.04},{"s":"d","t":2120,"v":1.05},{"s":"d","t":2134,"v":1.035},{"s":"d","t":2148,"v":1.035},{"s":"d","t":2161,"v":1.05},{"s":"d","t":2175,"v":1.065},{"s":"d","t":2188,"v":1.07},{"s":"d","t":2209,"v":1.08},{"s":"d","t":2222,"v":1.09},{"s":"d","t":2236,"v":1.11},{"s":"d","t":2250,"v":1.13},{"s":"d","t":2265,"v":1.12},{"s":"d","t":2282,"v":1.11},{"s":"d","t":2295,"v":1.09},{"s":"d","t":2309,"v":1.08},{"s":"d","t":2329,"v":1.085},{"s":"d","t":2349,"v":1.09},{"s":"d","t":2366,"v":1.095},{"s":"d","t":2383,"v":1.13},{"s":"d","t":2403,"v":1.13},{"s":"d","t":2413,"v":1.11},{"s":"d","t":2424,"v":1.08},{"s":"d","t":2440,"v":1.12},{"s":"d","t":2455,"v":1.17},{"s":"d","t":2466,"v":1.15},{"s":"d","t":2478,"v":1.14},{"s":"d","t":2491,"v":1.13},{"s":"d","t":2505,"v":1.115},{"s":"d","t":2519,"v":1.15},{"s":"d","t":2539,"v":1.15},{"s":"d","t":2553,"v":1.14},{"s":"d","t":2566,"v":1.115},{"s":"d","t":2583,"v":1.09},{"s":"d","t":2601,"v":1.06},{"s":"d","t":2618,"v":1.07},{"s":"d","t":2635,"v":1.08},{"s":"d","t":2648,"v":1.1},{"s":"d","t":2662,"v":1.13},{"s":"d","t":2675,"v":1.15},{"s":"d","t":2689,"v":1.16},{"s":"d","t":2703,"v":1.175},{"s":"d","t":2717,"v":1.16},{"s":"d","t":2730,"v":1.17},{"s":"d","t":2751,"v":1.18},{"s":"d","t":2768,"v":1.165},{"s":"d","t":2785,"v":1.15},{"s":"d","t":2805,"v":1.12},{"s":"d","t":2825,"v":1.107},{"s":"d","t":2850,"v":1.11},{"s":"d","t":2870,"v":1.11},{"s":"d","t":2893,"v":1.11},{"s":"d","t":2910,"v":1.13},{"s":"d","t":2927,"v":1.16},{"s":"d","t":2945,"v":1.15},{"s":"d","t":2967,"v":1.16},{"s":"d","t":2985,"v":1.145},{"s":"d","t":3000,"v":1.13},{"s":"d","t":3012,"v":1.17},{"s":"d","t":3022,"v":1.2},{"s":"d","t":3050,"v":1.21},{"s":"d","t":3076,"v":1.23},{"s":"d","t":3100,"v":1.25},{"s":"d","t":3131,"v":1.28},{"s":"d","t":3145,"v":1.31},{"s":"d","t":3151,"v":1.35},{"s":"d","t":3160,"v":1.4},{"s":"d","t":3169,"v":1.43},{"s":"d","t":3177,"v":1.42},{"s":"d","t":3185,"v":1.4},{"s":"d","t":3199,"v":1.36},{"s":"d","t":3206,"v":1.4},{"s":"d","t":3213,"v":1.43},{"s":"d","t":3226,"v":1.42},{"s":"d","t":3236,"v":1.39},{"s":"d","t":3246,"v":1.36},{"s":"d","t":3253,"v":1.42},{"s":"d","t":3260,"v":1.48},{"s":"d","t":3269,"v":1.54},{"s":"d","t":3280,"v":1.55},{"s":"d","t":3294,"v":1.55},{"s":"d","t":3314,"v":1.55},{"s":"d","t":3324,"v":1.42},{"s":"d","t":3334,"v":1.28},{"s":"d","t":3348,"v":1.25},{"s":"d","t":3375,"v":1.24},{"s":"d","t":3403,"v":1.23},{"s":"d","t":3430,"v":1.21},{"s":"d","t":3457,"v":1.18},{"s":"d","t":3470,"v":1.16},{"s":"d","t":3490,"v":1.17},{"s":"d","t":3511,"v":1.16},{"s":"d","t":3540,"v":1.15},{"s":"d","t":3570,"v":1.15},{"s":"d","t":3594,"v":1.13},{"s":"d","t":3607,"v":1.17},{"s":"d","t":3620,"v":1.2},{"s":"d","t":3650,"v":1.2},{"s":"d","t":3675,"v":1.19},{"s":"d","t":3700,"v":1.18},{"s":"d","t":3730,"v":1.15},{"s":"d","t":3757,"v":1.15},{"s":"d","t":3784,"v":1.15},{"s":"d","t":3810,"v":1.16},{"s":"d","t":3839,"v":1.17},{"s":"d","t":3865,"v":1.18},{"s":"d","t":3893,"v":1.2},{"s":"d","t":3920,"v":1.21},{"s":"d","t":3948,"v":1.23},{"s":"d","t":3975,"v":1.24},{"s":"d","t":4000,"v":1.26}
    ]
  },
  "vconcat": [
    {
      "width": 539, "height": 74,
      "title": "Price pₜ",
      "data": {"name": "price"},
      "mark": {"type": "line", "strokeWidth": 1.5, "clip": true},
      "encoding": {
        "x": {"field": "t", "type": "quantitative", "title": null,
              "scale": {"domain": [1900, 4100], "nice": false, "zero": false},
              "axis": {"values": [2000, 2250, 2500, 2750, 3000, 3250, 3500, 3750, 4000], "format": "d"}},
        "y": {"field": "p", "type": "quantitative", "title": null,
              "scale": {"type": "log", "domain": [0.85, 3.74], "nice": false},
              "axis": {"values": [1, 2, 3], "format": ".1f"}},
        "color": {"datum": "pₜ", "type": "nominal", "scale": {"domain": ["pₜ"], "range": ["#6495ed"]},
                  "legend": {"legendX": 492, "legendY": 87}}
      }
    },
    {
      "width": 539, "height": 74,
      "title": "Risky Fraction",
      "data": {"name": "frac"},
      "encoding": {
        "x": {"field": "t", "type": "quantitative", "title": null,
              "scale": {"domain": [1900, 4100], "nice": false, "zero": false},
              "axis": {"values": [2000, 2250, 2500, 2750, 3000, 3250, 3500, 3750, 4000], "format": "d"}},
        "y": {"field": "v", "type": "quantitative", "title": null,
              "scale": {"domain": [-0.055, 1.055], "nice": false, "zero": false},
              "axis": {"values": [0, 1], "format": "d"}},
        "color": {"field": "s", "type": "nominal", "sort": null,
                  "scale": {"domain": ["n", "f", "d"], "range": ["#008000", "#0000ff", "#ff0000"]},
                  "legend": {"legendX": 352, "legendY": 87, "columns": 3,
                             "labelExpr": "datum.label == 'n' ? 'xₜⁿ' : datum.label == 'f' ? 'xₜᶠ' : 'xₜᴰˢ'"}}
      },
      "layer": [
        {"transform": [{"filter": "datum.s != 'd'"}],
         "mark": {"type": "line", "strokeWidth": 1.6, "clip": true}},
        {"transform": [{"filter": "datum.s == 'd'"}],
         "mark": {"type": "line", "strokeWidth": 0.9, "opacity": 0.7, "clip": true}}
      ]
    },
    {
      "width": 539, "height": 73,
      "title": "Wealth",
      "data": {"name": "wealth"},
      "mark": {"type": "line", "strokeWidth": 1.6, "clip": true},
      "encoding": {
        "x": {"field": "t", "type": "quantitative", "title": null,
              "scale": {"domain": [1900, 4100], "nice": false, "zero": false},
              "axis": {"values": [2000, 2250, 2500, 2750, 3000, 3250, 3500, 3750, 4000], "format": "d"}},
        "y": {"field": "v", "type": "quantitative", "title": null,
              "scale": {"domain": [0.89, 2.36], "nice": false, "zero": false},
              "axis": {"values": [1, 2], "format": "d"}},
        "color": {"field": "s", "type": "nominal", "sort": null,
                  "scale": {"domain": ["n", "f", "d"], "range": ["#008000", "#0000ff", "#ff0000"]},
                  "legend": {"legendX": 232, "legendY": 86, "columns": 3, "labelFontSize": 11, "columnPadding": 10,
                             "labelExpr": "datum.label == 'n' ? 'Wₜⁿ/W₂₀₀₀ⁿ' : datum.label == 'f' ? 'Wₜᶠ/W₂₀₀₀ᶠ' : 'Wₜᴰˢ/W₂₀₀₀ᴰˢ'"}}
      }
    }
  ]
}
